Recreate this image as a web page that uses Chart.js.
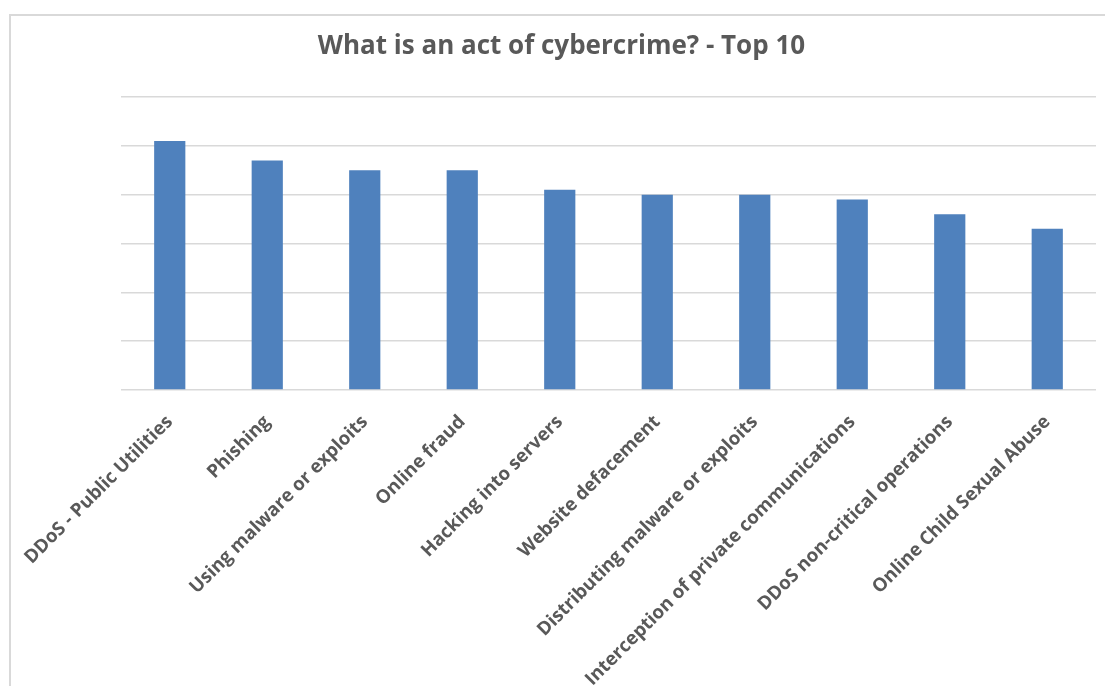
<!DOCTYPE html>
<html>
<head>
<meta charset="utf-8">
<script src="https://cdn.jsdelivr.net/npm/chart.js@4/dist/chart.umd.min.js"></script>
<style>
    body { margin: 0; background: #fff; overflow: hidden; }
    #wrap { position: relative; width: 1105px; height: 686px; }
    #frame {
        position: absolute; left: 9px; top: 14px;
        width: 1200px; height: 800px;
        border: 2px solid #d9d9d9;
        pointer-events: none;
    }
</style>
</head>
<body>
<div id="wrap">
    <canvas id="myChart" width="1105" height="686"></canvas>
    <div id="frame"></div>
</div>
<script>
const categories = [
    'DDoS - Public Utilities',
    'Phishing',
    'Using malware or exploits',
    'Online fraud',
    'Hacking into servers',
    'Website defacement',
    'Distributing malware or exploits',
    'Interception of private communications',
    'DDoS non-critical operations',
    'Online Child Sexual Abuse'
];
const responses = [51, 47, 45, 45, 41, 40, 40, 39, 36, 33];
const yTicks = [0, 10, 20, 30, 40, 50, 60];

const textGrey = '#595959';
const gridGrey = '#d9d9d9';

const chartContext = document.getElementById('myChart').getContext('2d');
new Chart(chartContext, {
    type: 'bar',
    data: {
        labels: categories,
        datasets: [
            {
                data: responses,
                backgroundColor: '#4f81bd',
                borderWidth: 0,
                barPercentage: 0.32,
                categoryPercentage: 1
            }
        ]
    },
    options: {
        responsive: false,
        animation: false,
        layout: {
            padding: { top: 0, bottom: 0, left: 27, right: 9 }
        },
        plugins: {
            legend: { display: false },
            tooltip: { enabled: false },
            title: {
                display: true,
                text: 'What is an act of cybercrime? - Top 10',
                color: textGrey,
                font: { family: 'Open Sans', size: 26, weight: 'bold', lineHeight: 1.2 },
                padding: { top: 30.5, bottom: 35.3 }
            }
        },
        scales: {
            x: {
                type: 'category',
                grid: { display: false },
                border: { display: false },
                ticks: {
                    autoSkip: false,
                    minRotation: 45,
                    maxRotation: 45,
                    padding: 13,
                    color: textGrey,
                    font: { family: 'Open Sans', size: 18.7, weight: 'bold' }
                },
                afterFit: (scale) => { scale.height = 686 - 390; }
            },
            y: {
                type: 'linear',
                min: yTicks[0],
                max: yTicks[yTicks.length - 1],
                afterBuildTicks: (scale) => { scale.ticks = yTicks.map(v => ({ value: v })); },
                grid: { color: gridGrey, lineWidth: 1.5, drawTicks: false },
                border: { display: false },
                ticks: { display: false },
                afterFit: (scale) => { scale.width = 121 - 27; }
            }
        }
    }
});
</script>
</body>
</html>
